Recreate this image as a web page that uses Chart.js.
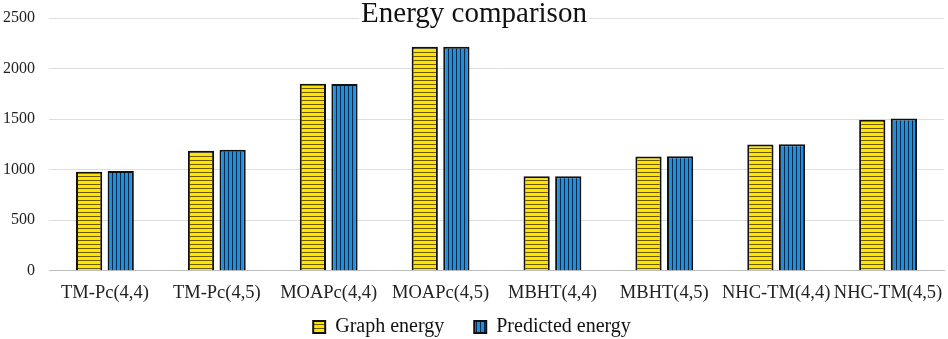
<!DOCTYPE html>
<html>
<head>
<meta charset="utf-8">
<script src="https://cdn.jsdelivr.net/npm/chart.js@4.4.1/dist/chart.umd.min.js"></script>
<style>
  html, body { margin: 0; padding: 0; background: #fff; }
  #wrap { width: 948px; height: 339px; position: relative; }
</style>
</head>
<body>
<div id="wrap"><canvas id="chart_energy"></canvas></div>
<script>
var categories = ['TM-Pc(4,4)', 'TM-Pc(4,5)', 'MOAPc(4,4)', 'MOAPc(4,5)', 'MBHT(4,4)', 'MBHT(4,5)', 'NHC-TM(4,4)', 'NHC-TM(4,5)'];
var graphEnergy = [980, 1188, 1850, 2215, 935, 1130, 1250, 1495];
var predictedEnergy = [988, 1198, 1848, 2215, 935, 1132, 1252, 1505];
var titleText = 'Energy comparison';

var serif = '"Liberation Serif", "Times New Roman", serif';

function stripes(base, line, vertical) {
    var c = document.createElement('canvas');
    c.width = 4; c.height = 4;
    var g = c.getContext('2d');
    g.fillStyle = base;
    g.fillRect(0, 0, 4, 4);
    g.fillStyle = line;
    if (vertical) g.fillRect(0, 0, 1, 4);
    else g.fillRect(0, 0, 4, 1);
    return g.createPattern(c, 'repeat');
}

var yellowFill = stripes('#ffe400', '#6b5a00', false);
var blueFill = stripes('#1d8fdc', '#0b2a4a', true);

var chart_energy = new Chart(document.getElementById('chart_energy'), {
    type: 'bar',
    data: {
        labels: categories,
        datasets: [
            {
                label: 'Graph energy',
                data: graphEnergy,
                backgroundColor: yellowFill,
                borderColor: '#111',
                borderWidth: 2,
                categoryPercentage: 0.565,
                barPercentage: 0.83
            },
            {
                label: 'Predicted energy',
                data: predictedEnergy,
                backgroundColor: blueFill,
                borderColor: '#111',
                borderWidth: 2,
                categoryPercentage: 0.565,
                barPercentage: 0.83
            }
        ]
    },
    options: {
        animation: false,
        responsive: true,
        maintainAspectRatio: false,
        layout: { padding: { top: 18, right: 4, left: 0, bottom: -8 } },
        plugins: {
            title: { display: false },
            tooltip: { enabled: false },
            legend: {
                position: 'bottom',
                labels: {
                    font: { family: serif, size: 20 },
                    color: '#111',
                    boxWidth: 12,
                    boxHeight: 12,
                    padding: 10,
                    generateLabels: function (chart) {
                        var items = Chart.defaults.plugins.legend.labels.generateLabels(chart);
                        items[0].text += '    ';
                        return items;
                    }
                }
            }
        },
        scales: {
            x: {
                grid: { display: false },
                border: { color: '#bfbfbf' },
                ticks: {
                    font: { family: serif, size: 18.5 },
                    color: '#222',
                    maxRotation: 0,
                    autoSkip: false,
                    padding: 3
                }
            },
            y: {
                min: 0,
                max: 2500,
                ticks: {
                    stepSize: 500,
                    font: { family: serif, size: 16 },
                    color: '#222',
                    padding: 14,
                    callback: function (v) { return String(v); }
                },
                grid: { color: '#dedede', drawTicks: false },
                border: { display: false },
                afterFit: function (scale) {
                    scale.width = 49;
                    scale.paddingTop = 0;
                }
            }
        }
    },
    plugins: [{
        id: 'titleOverlay',
        afterDraw: function (chart) {
            var ctx = chart.ctx;
            ctx.save();
            ctx.font = '29px ' + serif;
            var w = ctx.measureText(titleText).width;
            var cx = chart.width / 2;
            ctx.fillStyle = '#fff';
            ctx.fillRect(cx - w / 2 - 2, 0, w + 4, 28);
            ctx.fillStyle = '#111';
            ctx.textAlign = 'center';
            ctx.textBaseline = 'alphabetic';
            ctx.fillText(titleText, cx, 22);
            ctx.restore();
        }
    }]
});
</script>
</body>
</html>
